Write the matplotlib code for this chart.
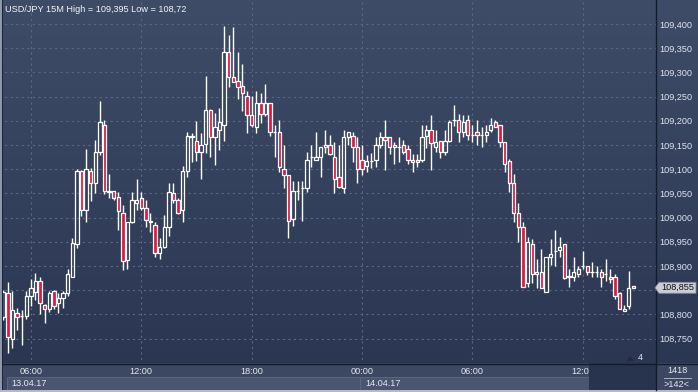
import numpy as np
import pandas as pd
import matplotlib
matplotlib.use("Agg")
import matplotlib.pyplot as plt
from matplotlib.patches import Rectangle, Polygon
from matplotlib.colors import LinearSegmentedColormap
from matplotlib.lines import Line2D

plt.rcParams["font.family"] = ["Liberation Sans", "DejaVu Sans"]

# USD/JPY 15M candles, 13.04.17 04:30 .. 14.04.17 14:45
opens = [
    108.795, 108.844, 108.749, 108.802, 108.797, 108.797, 108.837, 108.847, 108.869, 108.819,
    108.812, 108.848, 108.823, 108.833, 108.844, 108.878, 108.945, 109.096, 109.016, 109.096,
    109.071, 109.136, 109.191, 109.053, 109.055, 109.043, 109.009, 108.912, 108.990, 109.030,
    109.040, 109.019, 108.994, 108.985, 108.927, 108.939, 108.980, 109.050, 109.036, 109.015,
    109.096, 109.169, 109.159, 109.135, 109.152, 109.222, 109.166, 109.180, 109.191, 109.342,
    109.291, 109.282, 109.272, 109.251, 109.211, 109.187, 109.236, 109.215, 109.236, 109.176,
    109.176, 109.100, 109.089, 108.998, 109.054, 109.061, 109.061, 109.125, 109.120, 109.125,
    109.145, 109.151, 109.125, 109.084, 109.061, 109.166, 109.169, 109.145, 109.120, 109.107,
    109.117, 109.120, 109.151, 109.166, 109.166, 109.151, 109.145, 109.151, 109.141, 109.120,
    109.120, 109.120, 109.169, 109.181, 109.145, 109.159, 109.135, 109.159, 109.202, 109.202,
    109.176, 109.202, 109.171, 109.176, 109.171, 109.171, 109.181, 109.197, 109.191, 109.156,
    109.117, 109.071, 109.009, 108.980, 108.864, 108.945, 108.883, 108.888, 108.847, 108.918,
    108.930, 108.933, 108.945, 108.878, 108.878, 108.883, 108.899, 108.899, 108.888, 108.888,
    108.888, 108.883, 108.878, 108.878, 108.844, 108.807, 108.818, 108.858]
highs = [
    108.850, 108.866, 108.848, 108.813, 108.809, 108.848, 108.873, 108.885, 108.878, 108.821,
    108.848, 108.850, 108.845, 108.848, 108.893, 108.957, 109.100, 109.098, 109.141, 109.102,
    109.160, 109.241, 109.202, 109.091, 109.055, 109.053, 109.026, 108.991, 109.053, 109.079,
    109.053, 109.036, 109.009, 108.991, 108.957, 109.005, 109.071, 109.071, 109.040, 109.107,
    109.177, 109.175, 109.200, 109.175, 109.293, 109.225, 109.217, 109.226, 109.395, 109.377,
    109.393, 109.342, 109.317, 109.262, 109.251, 109.262, 109.257, 109.277, 109.236, 109.191,
    109.202, 109.151, 109.089, 109.076, 109.076, 109.076, 109.136, 109.151, 109.176, 109.145,
    109.181, 109.171, 109.156, 109.151, 109.181, 109.176, 109.176, 109.166, 109.151, 109.129,
    109.134, 109.167, 109.177, 109.202, 109.166, 109.157, 109.166, 109.160, 109.151, 109.131,
    109.131, 109.191, 109.191, 109.212, 109.181, 109.159, 109.181, 109.202, 109.233, 109.215,
    109.212, 109.212, 109.191, 109.202, 109.187, 109.191, 109.205, 109.202, 109.191, 109.156,
    109.121, 109.090, 109.030, 108.991, 108.959, 108.955, 108.914, 108.935, 108.918, 108.955,
    108.974, 108.959, 108.945, 108.894, 108.918, 108.899, 108.930, 108.899, 108.909, 108.899,
    108.894, 108.914, 108.894, 108.883, 108.847, 108.819, 108.890, 108.858]
lows = [
    108.788, 108.720, 108.731, 108.768, 108.737, 108.790, 108.817, 108.830, 108.801, 108.783,
    108.804, 108.811, 108.802, 108.813, 108.837, 108.878, 108.938, 109.004, 108.990, 109.035,
    109.051, 109.129, 109.049, 109.040, 109.036, 108.974, 108.892, 108.893, 108.988, 109.016,
    109.016, 108.981, 108.971, 108.919, 108.914, 108.937, 108.963, 109.030, 109.008, 108.990,
    109.084, 109.115, 109.117, 109.079, 109.133, 109.125, 109.109, 109.140, 109.159, 109.270,
    109.281, 109.245, 109.221, 109.175, 109.187, 109.175, 109.196, 109.210, 109.169, 109.125,
    109.095, 109.061, 108.958, 108.983, 109.036, 108.994, 109.053, 109.105, 109.120, 109.084,
    109.134, 109.129, 109.050, 109.061, 109.050, 109.151, 109.115, 109.071, 109.089, 109.095,
    109.102, 109.105, 109.144, 109.098, 109.131, 109.110, 109.115, 109.131, 109.110, 109.095,
    109.105, 109.115, 109.144, 109.098, 109.135, 109.124, 109.129, 109.156, 109.190, 109.156,
    109.167, 109.160, 109.156, 109.150, 109.145, 109.156, 109.176, 109.187, 109.145, 109.095,
    109.053, 108.990, 108.949, 108.857, 108.857, 108.864, 108.854, 108.854, 108.847, 108.903,
    108.899, 108.918, 108.873, 108.857, 108.868, 108.878, 108.894, 108.881, 108.878, 108.878,
    108.857, 108.868, 108.864, 108.832, 108.812, 108.807, 108.812, 108.855]
closes = [
    108.846, 108.753, 108.809, 108.794, 108.797, 108.837, 108.854, 108.869, 108.823, 108.812,
    108.844, 108.818, 108.833, 108.844, 108.883, 108.948, 109.096, 109.016, 109.100, 109.071,
    109.136, 109.197, 109.055, 109.055, 109.040, 109.014, 108.910, 108.990, 109.036, 109.036,
    109.019, 108.995, 108.990, 108.927, 108.939, 108.980, 109.053, 109.036, 109.009, 109.096,
    109.169, 109.166, 109.135, 109.151, 109.222, 109.166, 109.187, 109.197, 109.342, 109.291,
    109.281, 109.270, 109.257, 109.211, 109.191, 109.236, 109.215, 109.236, 109.176, 109.176,
    109.105, 109.089, 108.994, 109.054, 109.054, 109.061, 109.120, 109.125, 109.125, 109.145,
    109.151, 109.131, 109.079, 109.064, 109.166, 109.176, 109.145, 109.100, 109.100, 109.117,
    109.117, 109.151, 109.166, 109.160, 109.145, 109.145, 109.145, 109.135, 109.120, 109.115,
    109.115, 109.166, 109.181, 109.154, 109.156, 109.135, 109.159, 109.197, 109.202, 109.176,
    109.197, 109.171, 109.171, 109.171, 109.171, 109.176, 109.191, 109.187, 109.156, 109.110,
    109.071, 109.009, 108.980, 108.857, 108.949, 108.883, 108.888, 108.854, 108.918, 108.924,
    108.930, 108.939, 108.876, 108.878, 108.888, 108.894, 108.899, 108.888, 108.888, 108.888,
    108.878, 108.883, 108.873, 108.837, 108.812, 108.812, 108.854, 108.855]

price_levels = [108.75, 108.80, 108.85, 108.90, 108.95, 109.00, 109.05, 109.10,
                109.15, 109.20, 109.25, 109.30, 109.35, 109.40]
hour_ticks = ["06:00", "12:00", "18:00", "00:00", "06:00", "12:00"]
day_labels = ["13.04.17", "14.04.17"]
title = "USD/JPY 15M High = 109,395 Low = 108,72"
last_price = closes[-1]

times = pd.date_range("2017-04-13 04:30", periods=len(closes), freq="15min")
o, h, l, c = (np.array(a) for a in (opens, highs, lows, closes))
x = np.arange(len(c))

W, H = 698, 392
fig = plt.figure(figsize=(W / 100, H / 100), dpi=100)
fig.patch.set_facecolor("#3c4761")


def fx(px):
    return px / W


def fy(py):
    return 1 - py / H


def rect(x0, y0, x1, y1, fc, ec="none", lw=0, z=1):
    fig.patches.append(Rectangle((fx(x0), fy(y1)), fx(x1) - fx(x0), fy(y0) - fy(y1),
                                 transform=fig.transFigure, fc=fc, ec=ec, lw=lw, zorder=z))


# gradient background behind plot and price scale
bg = fig.add_axes([0, fy(363), 1, 363 / H])
cmap = LinearSegmentedColormap.from_list("bg", ["#3f4c67", "#2b3752"])
bg.imshow(np.linspace(0, 1, 256)[:, None], aspect="auto", cmap=cmap, extent=[0, 1, 0, 1])
bg.axis("off")

ax = fig.add_axes([fx(3), fy(363), 652.5 / W, 363 / H])
ax.patch.set_alpha(0)
ax.set_xlim(-0.065, 141.8)
ax.set_ylim(108.6996, 109.4496)
for s in ax.spines.values():
    s.set_visible(False)

tick_idx = [i for i, t in enumerate(times) if t.minute == 0 and t.hour % 6 == 0]
grid_kw = dict(color="#5c6883", lw=0.8, linestyle=(0, (2, 3)), zorder=1)
ax.hlines(price_levels, -1, 150, **grid_kw)
ax.vlines(tick_idx, 108.6, 109.5, **grid_kw)

bull = c >= o
top = np.maximum(o, c)
bot = np.minimum(o, c)
ax.vlines(x, top, h, color="white", lw=1.0, zorder=3)
ax.vlines(x, l, bot, color="white", lw=1.0, zorder=3)
ax.bar(x, np.maximum(top - bot, 0.0004), bottom=bot, width=0.72,
       color=["none" if b else "#e3163f" for b in bull], edgecolor="white", lw=0.9, zorder=4)

# the current-price marker hides the scale label next to it
ax.yaxis.tick_right()
ax.set_yticks(price_levels)
ax.set_yticklabels(["" if abs(p - last_price) < 0.01 else f"{p:.3f}".replace(".", ",")
                    for p in price_levels])
ax.tick_params(axis="y", length=0, pad=2.5, labelsize=6.6, labelcolor="#dfe4ee")
ax.set_xticks([])

# bottom rows
rect(0, 363, 698, 390, "#3c4761")
rect(7, 377.5, 360, 390, "#4a5670", ec="#5f6b85", lw=0.6, z=2)
rect(360, 377.5, 589, 390, "#4a5670", ec="#5f6b85", lw=0.6, z=2)
for i, lab in zip(tick_idx, hour_ticks):
    fig.text(fx(3.3 + 4.6 * i), fy(371.5), lab, ha="center", va="center",
             fontsize=6.6, color="#e4e8ef", zorder=3)
fig.text(fx(11), fy(384), day_labels[0], ha="left", va="center", fontsize=6.6, color="#e4e8ef", zorder=3)
fig.text(fx(365), fy(384), day_labels[1], ha="left", va="center", fontsize=6.6, color="#e4e8ef", zorder=3)
rect(589, 363, 655.5, 390, "#28334d", z=5)
rect(0, 390, 698, 392, "#b5bac3", z=5)
rect(0, 0, 2, 390, "#8e98aa", z=5)
rect(2, 0, 3, 390, "#1c2335", z=5)

fig.lines.append(Line2D([fx(655.5), fx(655.5)], [fy(0), fy(390)], transform=fig.transFigure,
                        color="#141b2b", lw=1.0, zorder=6))
fig.lines.append(Line2D([fx(3), fx(698)], [fy(363.5), fy(363.5)], transform=fig.transFigure,
                        color="#141b2b", lw=1.0, zorder=6))

fig.text(fx(677), fy(370.5), "1418", ha="center", va="center", fontsize=6.6, color="#e4e8ef", zorder=7)
fig.lines.append(Line2D([fx(664), fx(691)], [fy(377.5), fy(377.5)], transform=fig.transFigure,
                        color="#aab2c0", lw=0.7, zorder=7))
fig.text(fx(677), fy(384.5), ">142<", ha="center", va="center", fontsize=6.6, color="#e4e8ef", zorder=7)

# bar counter near bottom right of plot
fig.patches.append(Polygon([(fx(626), fy(361)), (fx(630), fy(356)), (fx(634), fy(361))],
                           transform=fig.transFigure, fc="#222a3b", ec="none", zorder=7))
fig.text(fx(640), fy(357), "4", ha="center", va="center", fontsize=6.6, color="#e4e8ef", zorder=7)

# title
fig.text(fx(5), fy(9), title, ha="left", va="center", fontsize=6.6, color="#f2f4f8", zorder=7)

# current price marker
py = (109.4496 - last_price) / 0.0020661
fig.patches.append(Polygon([(fx(655), fy(py)), (fx(659), fy(py - 5.5)), (fx(696), fy(py - 5.5)),
                            (fx(696), fy(py + 5.5)), (fx(659), fy(py + 5.5))],
                           transform=fig.transFigure, fc="#c9cdd6", ec="#7f8797", lw=0.6, zorder=8))
fig.text(fx(677.5), fy(py), f"{last_price:.3f}".replace(".", ","), ha="center", va="center",
         fontsize=6.6, color="#111111", zorder=9)

fig.savefig("out.png", dpi=100, facecolor=fig.get_facecolor())
